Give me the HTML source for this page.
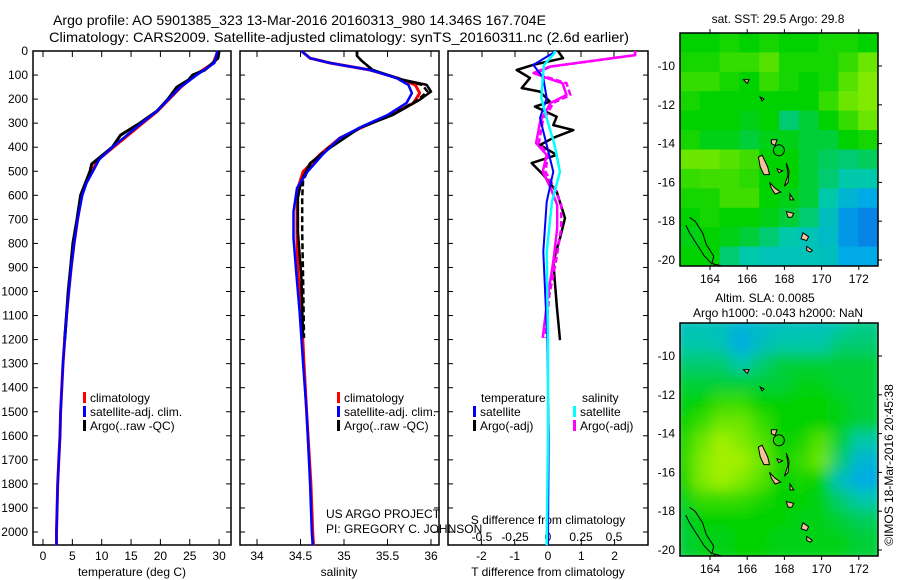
<!DOCTYPE html>
<html><head><meta charset="utf-8"><style>
html,body{margin:0;padding:0;background:#fff;}
svg{display:block;font-family:"Liberation Sans",sans-serif;}
</style></head><body>
<svg id="fig" width="900" height="580" viewBox="0 0 900 580" xmlns="http://www.w3.org/2000/svg">
<defs>
<filter id="blur" x="0" y="0" width="1" height="1"><feGaussianBlur stdDeviation="7"/></filter>
<clipPath id="clipMap1"><rect x="680" y="33" width="198" height="233"/></clipPath>
<clipPath id="clipMap2"><rect x="680" y="323" width="198" height="233"/></clipPath>
</defs>
<text x="53" y="25" font-size="14" textLength="493" lengthAdjust="spacingAndGlyphs">Argo profile: AO 5901385_323 13-Mar-2016 20160313_980 14.346S 167.704E</text>
<text x="49" y="42" font-size="14" textLength="580" lengthAdjust="spacingAndGlyphs">Climatology: CARS2009. Satellite-adjusted climatology: synTS_20160311.nc (2.6d earlier)</text>
<g id="plots"></g>
<text transform="translate(893,465) rotate(-90)" font-size="12" text-anchor="middle">©IMOS 18-Mar-2016 20:45:38</text>
</svg>
<script>
// ---------- profile data ----------
const climDepth = [0,50,100,150,200,250,300,350,400,450,500,550,600,700,800,900,1000,1100,1200,1300,1400,1500,1600,1700,1800,1900,2000,2055];
const climTemp  = [29.8,29,26,23.5,21.5,19.5,17,14.5,12,9.5,8.3,7.3,6.6,5.9,5.3,4.8,4.4,4.0,3.7,3.4,3.2,3.0,2.9,2.7,2.5,2.4,2.3,2.3];
const satTemp   = [29.7,29.2,26.2,23.4,21.4,19.4,16.8,14.3,11.8,9.6,8.5,7.4,6.7,5.9,5.3,4.8,4.4,4.0,3.7,3.4,3.2,3.0,2.9,2.7,2.5,2.4,2.3,2.3];
const argoDepth = [0,30,60,80,100,120,150,200,250,300,350,400,450,470,500,550,600,700,800,900,1000,1100,1200];
const argoTemp  = [30.0,29.8,28.5,27.5,25.5,24.8,22.8,21.3,19.4,16.5,13.2,11.8,9.3,8.3,8.0,7.2,6.4,5.8,5.1,4.7,4.3,4.0,3.7];

const salDepth = [0,30,50,79,112,141,175,216,266,315,362,432,502,570,668,778,918,1084,1300,1500,1800,2000,2055];
const climSal  = [34.51,34.61,34.84,35.3,35.61,35.82,35.87,35.8,35.53,35.22,34.95,34.72,34.53,34.47,34.46,34.46,34.47,34.51,34.54,34.57,34.62,34.64,34.65];
const satSal   = [34.51,34.61,34.84,35.3,35.6,35.74,35.78,35.72,35.5,35.2,34.95,34.75,34.58,34.46,34.42,34.42,34.45,34.49,34.53,34.57,34.61,34.63,34.64];
const argoSalDepth = [0,20,40,79,120,141,169,203,266,320,403,466,540,610,750,945,1193];
const argoSal  = [35.15,35.15,35.2,35.33,35.68,35.95,36.0,35.87,35.56,35.18,34.84,34.61,34.51,34.47,34.47,34.51,34.53];
const argoSalRaw = [35.15,35.15,35.2,35.33,35.66,35.9,35.96,35.85,35.55,35.17,34.82,34.62,34.53,34.52,34.52,34.53,34.54];

const dTDepth = [0,30,58,79,112,154,169,211,231,273,308,329,361,391,432,466,515,585,695,778,876,1056,1202];
const dTArgo  = [0.3,0.45,-0.45,-0.94,-0.54,-0.79,-0.24,0.06,-0.39,0.26,0.16,0.76,0.16,-0.24,0.26,-0.49,-0.14,0.26,0.51,0.36,0.16,0.26,0.36];
const dSDepth = [0,17,65,92,112,134,183,216,294,383,432,502,570,640,736,876,1015,1193];
const dSArgo  = [0.66,0.66,0.015,-0.11,-0.01,0.11,0.14,0.02,-0.06,-0.09,-0.01,-0.04,0.02,0.07,0.07,0.04,0,-0.04];
const dSArgoRaw=[0.66,0.66,0.02,-0.09,0.01,0.14,0.17,0.04,-0.04,-0.07,0.0,-0.02,0.05,0.1,0.1,0.06,0.01,-0.02];
const dSatDepth = [0,8,58,112,196,279,391,502,627,835,1200,1600,2055];
const dTSat   = [0.16,0.16,-0.44,-0.14,-0.04,-0.24,-0.04,0.16,-0.04,-0.14,-0.02,0.02,0.0];
const dSSat   = [0.05,0.05,-0.03,-0.04,-0.05,-0.01,0.05,0.09,0.03,-0.01,0.0,0.0,-0.01];

const depthTicks = [0,100,200,300,400,500,600,700,800,900,1000,1100,1200,1300,1400,1500,1600,1700,1800,1900,2000];
const tempTicks = [0,5,10,15,20,25,30];
const salTicks = [34,34.5,35,35.5,36];
const tdTicks = [-2,-1,0,1,2];
const sdTicks = [-0.5,-0.25,0,0.25,0.5];

// ---------- map data ----------
const lonTicks = [164,166,168,170,172];
const latTicks = [-10,-12,-14,-16,-18,-20];
const sstGrid = [
[.6,.6,.62,.6,.62,.6,.6,.62,.62,.6],
[.62,.62,.65,.65,.68,.62,.62,.62,.65,.7],
[.65,.65,.62,.6,.65,.62,.6,.62,.68,.72],
[.62,.6,.6,.6,.6,.6,.6,.65,.7,.72],
[.6,.6,.6,.58,.6,.5,.55,.6,.65,.7],
[.62,.58,.58,.55,.58,.58,.55,.55,.6,.62],
[.7,.7,.68,.66,.6,.6,.55,.52,.5,.52],
[.65,.66,.66,.64,.6,.6,.55,.5,.45,.45],
[.62,.62,.66,.66,.6,.58,.55,.45,.35,.3],
[.6,.62,.6,.6,.58,.55,.5,.4,.25,.2],
[.58,.6,.58,.55,.5,.45,.42,.38,.25,.2],
[.6,.6,.5,.45,.42,.42,.42,.4,.3,.3]];
const slaGrid = [
[.4,.42,.4,.35,.38,.4,.42,.4,.45,.48],
[.45,.45,.42,.3,.4,.45,.45,.45,.5,.5],
[.5,.5,.5,.45,.5,.55,.55,.55,.55,.55],
[.55,.55,.55,.55,.55,.55,.58,.58,.55,.55],
[.58,.6,.65,.65,.6,.6,.6,.6,.58,.55],
[.6,.65,.7,.7,.65,.6,.6,.6,.58,.55],
[.62,.7,.75,.72,.68,.6,.62,.68,.55,.45],
[.62,.72,.78,.75,.7,.62,.65,.7,.5,.35],
[.6,.72,.75,.72,.68,.6,.62,.6,.4,.3],
[.58,.65,.65,.65,.62,.6,.6,.58,.5,.45],
[.55,.6,.6,.6,.6,.6,.58,.58,.55,.52],
[.55,.58,.58,.6,.6,.58,.58,.58,.58,.55]];
const islands = [
 [[166.6,-14.7],[166.8,-14.6],[167.1,-15.2],[167.2,-15.6],[166.9,-15.6],[166.7,-15.2]],
 [[167.2,-16.0],[167.5,-16.3],[167.8,-16.5],[167.5,-16.6],[167.3,-16.3]],
 [[168.1,-17.5],[168.5,-17.6],[168.4,-17.8],[168.2,-17.8]],
 [[169.0,-18.6],[169.3,-18.8],[169.2,-19.0],[168.9,-18.9]],
 [[169.2,-19.3],[169.5,-19.5],[169.4,-19.6],[169.2,-19.5]],
 [[168.1,-15.0],[168.25,-15.4],[168.2,-16.0],[168.0,-16.2],[168.2,-15.6]],
 [[167.6,-15.3],[167.9,-15.4],[167.7,-15.5]],
 [[167.3,-13.8],[167.6,-13.8],[167.5,-14.1],[167.3,-14.0]],
 [[165.8,-10.7],[166.1,-10.7],[166.0,-10.9]],
 [[166.7,-11.6],[166.9,-11.7],[166.8,-11.8]],
 [[168.3,-16.6],[168.5,-16.9],[168.3,-16.9]],
 [[164.2,-20.2],[164.6,-20.3],[164.4,-20.4]]
];
const newCaledonia = [[162.9,-17.8],[163.2,-18.0],[163.6,-18.6],[163.8,-19.2],[164.2,-19.8],[164.1,-20.2],[163.7,-19.8],[163.3,-19.2],[162.9,-18.6],[162.7,-18.2]];

const NS = "http://www.w3.org/2000/svg";
const root = document.getElementById('plots');
function mk(tag, attrs, parent){const e=document.createElementNS(NS,tag);for(const k in attrs)e.setAttribute(k,attrs[k]);(parent||root).appendChild(e);return e;}

const Y0=51, PXM=0.2405;
function yD(d){return Y0+d*PXM;}
function xT(t){return 43+t*5.87;}
function xS(s){return 257+(s-34)*87;}
function xDT(v){return 548+v*33.3;}
function xDS(v){return 548+v*132;}

function line(xs, ds, fx, color, w, name, dash){
  const pts = xs.map((v,i)=>fx(v).toFixed(1)+","+yD(ds[i]).toFixed(1)).join(" ");
  const p = mk('polyline',{points:pts,fill:'none',stroke:color,'stroke-width':w,'stroke-linejoin':'round'});
  if(dash)p.setAttribute('stroke-dasharray',dash);
  
  
}
function panel(x0,x1,name){
  const r = mk('rect',{x:x0,y:51,width:x1-x0,height:494,fill:'none',stroke:'#000','stroke-width':1.5});
  
  
}
function txt(x,y,s,size,anchor,name,fill){
  const t = mk('text',{x:x,y:y,'font-size':size,'text-anchor':anchor||'start',fill:fill||'#000'});
  t.textContent=s;
  
  
  return t;
}
function xticks(ticks,fx,yLab,name){
  ticks.forEach(t=>{
    const x=fx(t);
    mk('line',{x1:x,y1:545,x2:x,y2:539,stroke:'#000'});
    mk('line',{x1:x,y1:51,x2:x,y2:57,stroke:'#000'});
    txt(x,yLab,String(t),12,'middle',name);
  });
}

panel(33,231,'temperature-panel');
panel(240,439,'salinity-panel');
panel(448,648,'difference-panel');

depthTicks.forEach(d=>{
  const y=yD(d);
  txt(28,y+4,String(d),12,'end','depth-tick-label');
  [[33,38],[226,231],[240,245],[434,439],[448,453],[643,648]].forEach(a=>mk('line',{x1:a[0],y1:y,x2:a[1],y2:y,stroke:'#000'}));
});
xticks(tempTicks,xT,560,'temperature-tick-label');
xticks(salTicks,xS,560,'salinity-tick-label');
tdTicks.forEach(t=>{const x=xDT(t);mk('line',{x1:x,y1:545,x2:x,y2:539,stroke:'#000'});txt(x,560,String(t),12,'middle','t-diff-tick-label');});
sdTicks.forEach(t=>{const x=xDS(t);mk('line',{x1:x,y1:51,x2:x,y2:57,stroke:'#000'});txt(x,541,String(t),12,'middle','s-diff-tick-label');});

txt(132,576,'temperature (deg C)',12,'middle','temperature-axis-title');
txt(339,576,'salinity',12,'middle','salinity-axis-title');
txt(548,576,'T difference from climatology',12,'middle','t-diff-axis-title');
txt(548,524,'S difference from climatology',12,'middle','s-diff-axis-title');
txt(326,518,'US ARGO PROJECT',12,'start','project-label');
txt(326,533,'PI: GREGORY C. JOHNSON',12,'start','pi-label');

line(climTemp,climDepth,xT,'#ff0000',3,'climatology-temp-line');
line(argoTemp,argoDepth,xT,'#000',3,'argo-temp-line');
line(satTemp,climDepth,xT,'#0000ff',2.5,'satellite-temp-line');
line(climSal,salDepth,xS,'#ff0000',3,'climatology-salinity-line');
line(argoSalRaw,argoSalDepth,xS,'#000',2.5,'argo-raw-salinity-line','6,3');
line(argoSal,argoSalDepth,xS,'#000',2.5,'argo-salinity-line');
line(satSal,salDepth,xS,'#0000ff',2.5,'satellite-salinity-line');
line(dTArgo,dTDepth,xDT,'#000',2.5,'argo-temp-diff-line');
line(dSArgoRaw,dSDepth,xDS,'#ff00ff',2.5,'argo-raw-sal-diff-line','6,3');
line(dSArgo,dSDepth,xDS,'#ff00ff',2.5,'argo-sal-diff-line');
line(dTSat,dSatDepth,xDT,'#0000ff',2,'satellite-temp-diff-line');
line(dSSat,dSatDepth,xDS,'#00ffff',2.5,'satellite-sal-diff-line');

function legend(x,y,color,label,name){
  mk('rect',{x:x,y:y-10,width:3,height:11,fill:color});
  txt(x+7,y,label,12,'start',name);
}
legend(83,402,'#ff0000','climatology','legend-climatology');
legend(83,416,'#0000ff','satellite-adj. clim.','legend-satellite-adj');
legend(83,430,'#000','Argo(..raw -QC)','legend-argo');
legend(337,402,'#ff0000','climatology','legend-climatology-2');
legend(337,416,'#0000ff','satellite-adj. clim.','legend-satellite-adj-2');
legend(337,430,'#000','Argo(..raw -QC)','legend-argo-2');
txt(481,402,'temperature',12,'start','legend-temperature-heading');
legend(473,416,'#0000ff','satellite','legend-temp-satellite');
legend(473,430,'#000','Argo(-adj)','legend-temp-argo');
txt(582,402,'salinity',12,'start','legend-salinity-heading');
legend(573,416,'#00ffff','satellite','legend-sal-satellite');
legend(573,430,'#ff00ff','Argo(-adj)','legend-sal-argo');

function ramp(v){
  const stops=[[0,[20,60,230]],[0.3,[0,170,230]],[0.45,[0,200,170]],[0.6,[0,210,0]],[0.75,[160,240,0]],[1,[230,240,0]]];
  for(let i=1;i<stops.length;i++){if(v<=stops[i][0]){const a=stops[i-1],b=stops[i];const f=(v-a[0])/(b[0]-a[0]);return 'rgb('+a[1].map((c,k)=>Math.round(c+(b[1][k]-c)*f)).join(',')+')';}}
  return 'rgb(230,240,0)';
}
function drawMap(top,grid,blur,name){
  const lonX=l=>710+(l-164)*18.6;
  const latY=l=>top+33+(-10-l)*19.4;
  const g=mk('g',{'clip-path':'url(#clipMap'+(top===33?1:2)+')'});
  
  
  const inner=mk('g',blur?{filter:'url(#blur)'}:{},g);
  const cw=198/10, ch=233/12;
  grid.forEach((row,r)=>row.forEach((v,c)=>{
    const cell=mk('rect',{x:680+c*cw-(blur?8:0),y:top+r*ch-(blur?8:0),width:cw+(blur?16:0.5),height:ch+(blur?16:0.5),fill:ramp(v)},inner);
    
    
  }));
  islands.forEach(isl=>{
    const p=mk('polygon',{points:isl.map(q=>lonX(q[0]).toFixed(1)+','+latY(q[1]).toFixed(1)).join(' '),fill:'#f5c09a',stroke:'#000','stroke-width':1},g);
    
    
  });
  const nc=mk('polyline',{points:newCaledonia.map(q=>lonX(q[0]).toFixed(1)+','+latY(q[1]).toFixed(1)).join(' '),fill:'none',stroke:'#000','stroke-width':1},g);
  
  
  const ci=mk('circle',{cx:lonX(167.704),cy:latY(-14.346),r:5.5,fill:'none',stroke:'#000','stroke-width':1},g);
  
  
  const fr=mk('rect',{x:680,y:top,width:198,height:233,fill:'none',stroke:'#000','stroke-width':1.5});
  
  
  lonTicks.forEach(l=>{const x=lonX(l);mk('line',{x1:x,y1:top,x2:x,y2:top-4,stroke:'#000'});mk('line',{x1:x,y1:top+233,x2:x,y2:top+237,stroke:'#000'});txt(x,top+250,String(l),12,'middle','lon-tick-label');});
  latTicks.forEach(l=>{const y=latY(l);mk('line',{x1:878,y1:y,x2:882,y2:y,stroke:'#000'});txt(675,y+4,String(l),12,'end','lat-tick-label');});
}
drawMap(33,sstGrid,false,'sst-map');
drawMap(323,slaGrid,true,'sla-map');
txt(778,23,'sat. SST: 29.5 Argo: 29.8',12,'middle','sst-map-title');
txt(765,302,'Altim. SLA: 0.0085',12,'middle','sla-map-title');
txt(778,317,'Argo h1000: -0.043 h2000: NaN',12,'middle','sla-map-subtitle');
</script>
</body></html>
